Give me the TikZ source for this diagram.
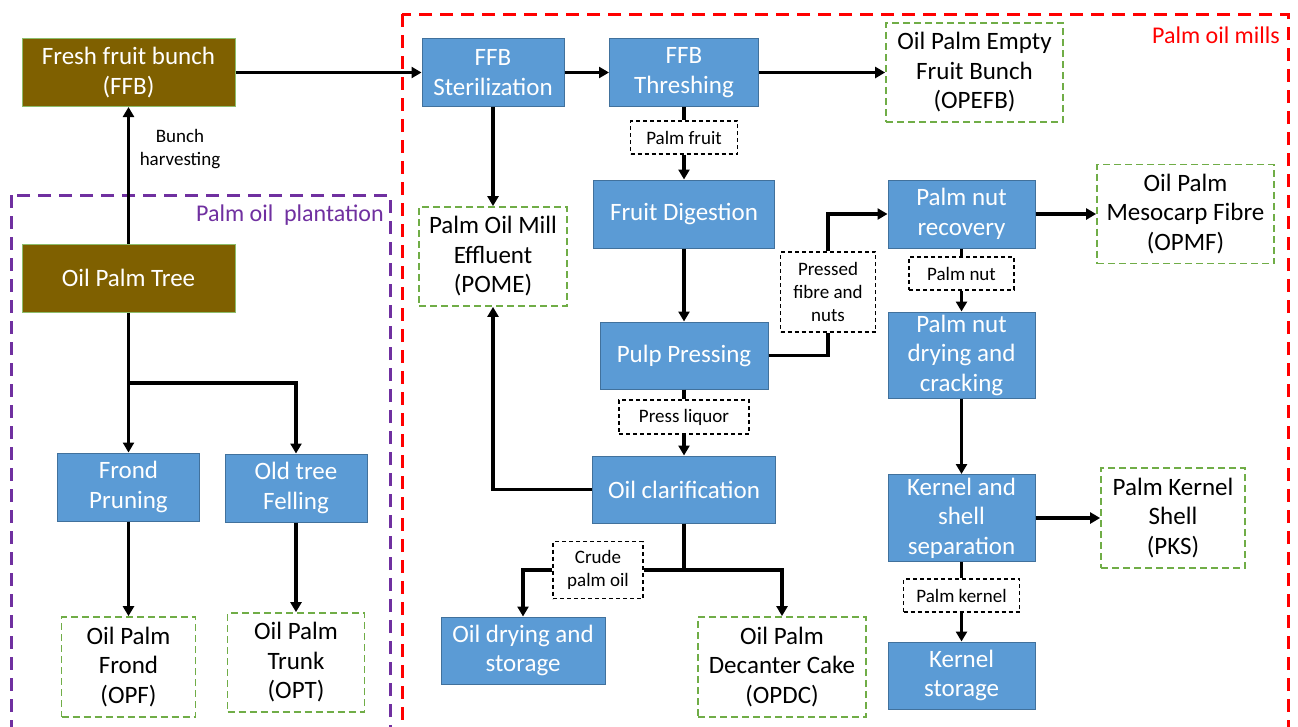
\documentclass[tikz,border=0pt]{standalone}
\usepackage{fontspec}
\setmainfont{Carlito}
\usetikzlibrary{arrows.meta}
\definecolor{bluefill}{HTML}{5B9BD5}
\definecolor{blueline}{HTML}{41719C}
\definecolor{brownfill}{HTML}{7F6000}
\definecolor{greenline}{HTML}{70AD47}
\definecolor{millred}{HTML}{FF0000}
\definecolor{plantpurple}{HTML}{7030A0}
\tikzset{
 base/.style={align=center, inner sep=0pt, font=\fontsize{25}{29.5}\selectfont},
 bluebox/.style={base, fill=bluefill, draw=blueline, line width=1pt, text=white},
 brownbox/.style={base, fill=brownfill, draw=greenline!80, line width=1pt, text=white},
 prodbox/.style={base, draw=greenline, line width=1.8pt, dash pattern=on 7pt off 4pt, text=black, fill=white},
 flowlabel/.style={align=center, inner sep=0pt, font=\fontsize{19}{23}\selectfont, draw=black, line width=1.1pt, dash pattern=on 4pt off 3pt, fill=white},
 flow/.style={line width=3.5pt, draw=black},
 arr/.style={flow, -{Triangle[length=10pt,width=11pt]}},
 regionred/.style={draw=millred, line width=3pt, dash pattern=on 13pt off 8pt},
 regionpurple/.style={draw=plantpurple, line width=3pt, dash pattern=on 13pt off 8pt},
}
\begin{document}
\begin{tikzpicture}[x=1pt,y=-1pt]
\useasboundingbox (0,0) rectangle (1298,726);
\clip (0,0) rectangle (1298,726);
\fill[white] (0,0) rectangle (1298,726);

% regions
\draw[regionred] (402,14) rectangle (1288,760);
\draw[regionpurple] (11,195) rectangle (390,760);
\node[anchor=east, text=millred, font=\fontsize{24}{29}\selectfont, inner sep=0pt] (millslabel) at (1280,35) {Palm oil mills};
\node[anchor=east, text=plantpurple, font=\fontsize{24}{29}\selectfont, inner sep=0pt] (plantlabel) at (384,215) {Palm oil~~plantation};

% plantation
\node[brownbox, minimum width=213pt, minimum height=68pt] (ffb) at (128.5,72.5) {Fresh fruit bunch\\(FFB)};
\node[brownbox, minimum width=213pt, minimum height=68pt] (tree) at (128.5,278) {Oil Palm Tree};
\node[bluebox, minimum width=142pt, minimum height=68pt] (frond) at (128.5,487) {Frond\\Pruning};
\node[bluebox, minimum width=142pt, minimum height=68pt] (felling) at (296,488) {Old tree\\Felling};
\node[prodbox, minimum width=134pt, minimum height=100pt] (opf) at (128.5,667) {Oil Palm\\Frond\\(OPF)};
\node[prodbox, minimum width=137pt, minimum height=99pt] (opt) at (296,662.5) {Oil Palm\\Trunk\\(OPT)};
\node[align=center, inner sep=0pt, font=\fontsize{19}{23}\selectfont] (harvest) at (180,149) {Bunch\\harvesting};

% mills
\node[bluebox, minimum width=142pt, minimum height=68pt] (ster) at (493,72.5) {FFB\\Sterilization};
\node[bluebox, minimum width=149pt, minimum height=68pt] (thresh) at (684,72.5) {FFB\\Threshing};
\node[prodbox, minimum width=177pt, minimum height=99pt] (opefb) at (974.5,72.5) {Oil Palm Empty\\Fruit Bunch\\(OPEFB)};
\node[flowlabel, minimum width=107pt, minimum height=33pt] (palmfruit) at (684,137.5) {Palm fruit};
\node[prodbox, minimum width=148pt, minimum height=99pt] (pome) at (493,256.5) {Palm Oil Mill\\Effluent\\(POME)};
\node[bluebox, minimum width=181pt, minimum height=68pt] (digest) at (684,214) {Fruit Digestion};
\node[bluebox, minimum width=168pt, minimum height=67pt] (pulp) at (684,355.5) {Pulp Pressing};
\node[flowlabel, minimum width=95pt, minimum height=80pt] (pressed) at (828,292) {Pressed\\fibre and\\nuts};
\node[bluebox, minimum width=147pt, minimum height=68pt] (recovery) at (961.5,214) {Palm nut\\recovery};
\node[prodbox, minimum width=177pt, minimum height=99pt] (opmf) at (1185.5,214) {Oil Palm\\Mesocarp Fibre\\(OPMF)};
\node[flowlabel, minimum width=105pt, minimum height=33pt] (palmnut) at (961.5,273.5) {Palm nut};
\node[bluebox, minimum width=147pt, minimum height=86pt] (drying) at (961.5,355) {Palm nut\\drying and\\cracking};
\node[bluebox, minimum width=147pt, minimum height=87pt] (sep) at (961.5,518) {Kernel and\\shell\\separation};
\node[prodbox, minimum width=144pt, minimum height=100pt] (pks) at (1173,518) {Palm Kernel\\Shell\\(PKS)};
\node[flowlabel, minimum width=116pt, minimum height=33pt] (palmkernel) at (961.5,595.5) {Palm kernel};
\node[bluebox, minimum width=147pt, minimum height=67pt] (storage) at (961.5,675.5) {Kernel\\storage};
\node[flowlabel, minimum width=130pt, minimum height=34pt] (pressliq) at (684,417) {Press liquor};
\node[bluebox, minimum width=183pt, minimum height=67pt] (clarif) at (684,489.5) {Oil clarification};
\node[flowlabel, minimum width=90pt, minimum height=57pt] (crude) at (598,570) {Crude\\palm oil};
\node[bluebox, minimum width=164pt, minimum height=67pt] (oildry) at (523,650.5) {Oil drying and\\storage};
\node[prodbox, minimum width=168pt, minimum height=100pt] (opdc) at (782,667) {Oil Palm\\Decanter Cake\\(OPDC)};

% connectors: plantation
\coordinate (tb) at (128.5,383);
\draw[arr] (tree.north) -- (ffb.south);
\draw[flow] (tree.south) -- (tb);
\draw[arr] (tb) -- (frond.north);
\draw[arr] (tb) -| (felling.north);
\draw[arr] (frond.south) -- (opf.north);
\draw[arr] (felling.south) -- (opt.north);

% connectors: mills
\draw[arr] (ffb.east) -- (ster.west);
\draw[arr] (ster.east) -- (thresh.west);
\draw[arr] (thresh.east) -- (opefb.west);
\draw[arr] (ster.south) -- (pome.north);
\draw[flow] (thresh.south) -- (palmfruit.north);
\draw[arr] (palmfruit.south) -- (digest.north);
\draw[arr] (digest.south) -- (pulp.north);
\draw[flow] (pulp.east) -| (pressed.south);
\draw[arr] (pressed.north) |- (recovery.west);
\draw[arr] (recovery.east) -- (opmf.west);
\draw[flow] (recovery.south) -- (palmnut.north);
\draw[arr] (palmnut.south) -- (drying.north);
\draw[arr] (drying.south) -- (sep.north);
\draw[arr] (sep.east) -- (pks.west);
\draw[flow] (sep.south) -- (palmkernel.north);
\draw[arr] (palmkernel.south) -- (storage.north);
\draw[flow] (pulp.south) -- (pressliq.north);
\draw[arr] (pressliq.south) -- (clarif.north);
\draw[arr] (clarif.west) -| (pome.south);
\coordinate (split) at (684,570);
\draw[flow] (clarif.south) -- (split);
\draw[flow] (split) -- (crude.east);
\draw[arr] (crude.west) -| (oildry.north);
\draw[arr] (split) -| (opdc.north);
\end{tikzpicture}
\end{document}
